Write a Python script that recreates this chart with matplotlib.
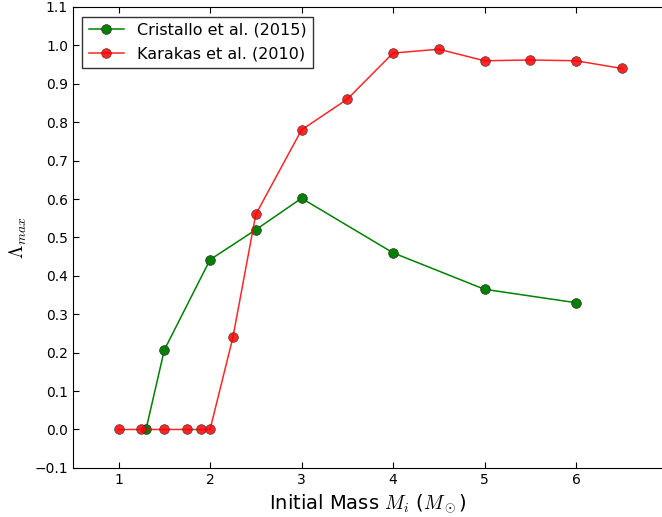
import numpy as np
import matplotlib
matplotlib.use("Agg")
import matplotlib.pyplot as plt

plt.rcParams['mathtext.fontset'] = 'cm'

# Cristallo et al. (2015)
m_cristallo = [1.3, 1.5, 2.0, 2.5, 3.0, 4.0, 5.0, 6.0]
lam_cristallo = [0.0, 0.207, 0.442, 0.52, 0.602, 0.46, 0.365, 0.33]

# Karakas et al. (2010)
m_karakas = [1.0, 1.25, 1.5, 1.75, 1.9, 2.0, 2.25, 2.5, 3.0, 3.5, 4.0, 4.5, 5.0, 5.5, 6.0, 6.5]
lam_karakas = [0.0, 0.0, 0.0, 0.0, 0.0, 0.0, 0.24, 0.56, 0.78, 0.86, 0.98, 0.99, 0.96, 0.962, 0.96, 0.94]

xticks = [1, 2, 3, 4, 5, 6]
yticks = np.round(np.arange(-0.1, 1.11, 0.1), 1)

fig = plt.figure(figsize=(6.62, 5.17), dpi=100)
ax = fig.add_axes([0.110, 0.095, 0.89, 0.8915])

ax.plot(m_cristallo, lam_cristallo, '-o', color='green', lw=1.1, ms=7,
        mec='#333333', mew=0.5, label='Cristallo et al. (2015)')
ax.plot(m_karakas, lam_karakas, '-o', color='red', lw=1.1, ms=7, alpha=0.85,
        mec='#333333', mew=0.5, label='Karakas et al. (2010)')

ax.set_xlim(0.5, 6.94)
ax.set_ylim(-0.1, 1.1)
ax.set_xticks(xticks)
ax.set_yticks(yticks)
ax.set_yticklabels([f"{v:.1f}".replace('-', '\u2212') for v in yticks])
ax.tick_params(direction='in', top=True, right=False, length=4, labelsize=10)
ax.spines['right'].set_visible(False)

ax.set_xlabel(r'Initial Mass $M_i$ ($M_\odot$)', fontsize=14)
ax.set_ylabel(r'$\Lambda_{max}$', fontsize=14)

leg = ax.legend(loc='upper left', fontsize=11.5, fancybox=False, numpoints=1,
                borderaxespad=0.6, handlelength=2.2, labelspacing=0.55)
leg.get_frame().set_edgecolor('black')
leg.get_frame().set_linewidth(1.0)

fig.savefig('out.png', dpi=100)
